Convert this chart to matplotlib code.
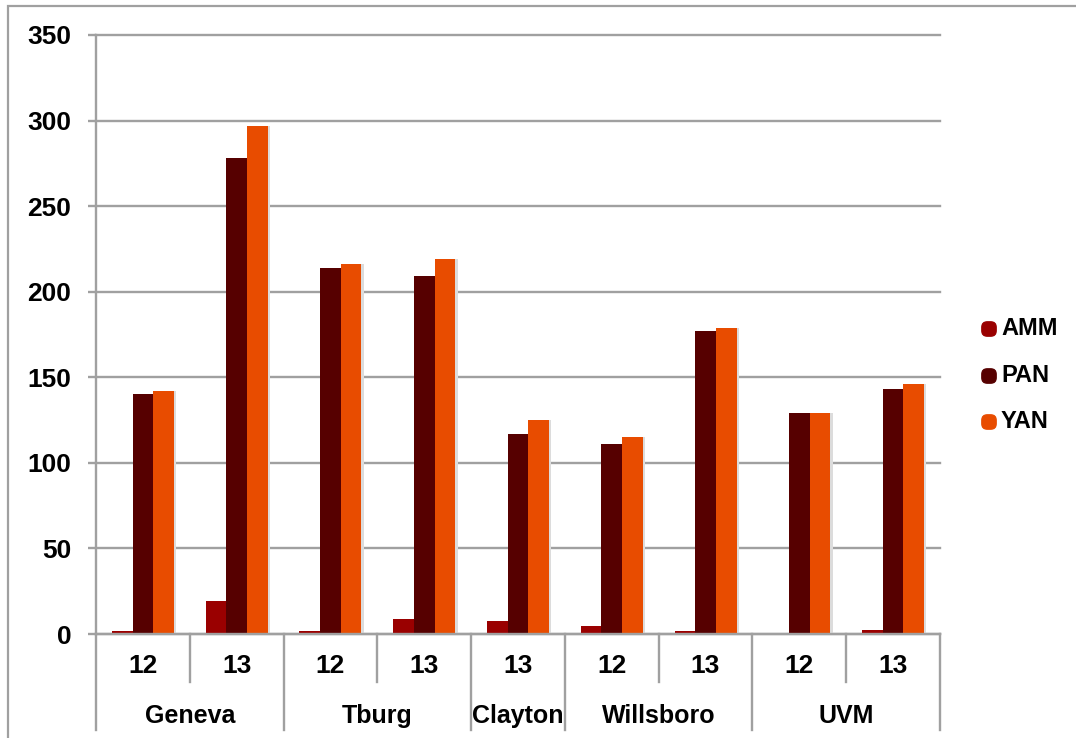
import matplotlib
matplotlib.use("Agg")
import matplotlib.pyplot as plt
import matplotlib.transforms as mtransforms
from matplotlib.patches import Rectangle, FancyBboxPatch
import numpy as np

sites = ["Geneva", "Tburg", "Clayton", "Willsboro", "UVM"]
years = ["12", "13", "12", "13", "13", "12", "13", "12", "13"]
site_spans = [2, 2, 1, 2, 2]
amm = [2, 19, 2, 9, 7.5, 4.5, 2, 0, 2.5]
pan = [140, 278, 214, 209, 117, 111, 177, 129, 143]
yan = [142, 297, 216, 219, 125, 115, 179, 129, 146]
series_names = ["AMM", "PAN", "YAN"]
colors = ["#9a0000", "#560000", "#e84c00"]

plt.rcParams['font.family'] = ['Liberation Sans', 'DejaVu Sans']
fig = plt.figure(figsize=(10.76, 7.38), dpi=100)
ax = fig.add_axes([96/1076, 1-634/738, 844/1076, 599/738])

grid_c = "#a0a0a0"
n = len(years)
x = np.arange(n) + 0.5
w = 0.22
for k, (vals, c) in enumerate(zip([amm, pan, yan], colors)):
    xs = x + (k - 1) * w
    ax.bar(xs + 0.025, vals, width=w, color="#dcdcdc", zorder=2, linewidth=0)
    ax.bar(xs, vals, width=w, color=c, zorder=3, linewidth=0, label=series_names[k])

ax.set_xlim(0, n)
ax.set_ylim(0, 350)
ax.set_yticks(np.arange(0, 351, 50))
ax.yaxis.grid(True, color=grid_c, linewidth=1.7, zorder=0)
for gl in ax.get_ygridlines():
    gl.set_clip_on(False)
ax.set_axisbelow(True)
for s in ["top", "right", "bottom"]:
    ax.spines[s].set_visible(False)
ax.spines["left"].set_color(grid_c)
ax.spines["left"].set_linewidth(1.7)
ax.tick_params(axis="y", length=5.8, width=1.7, color=grid_c, labelsize=19, pad=12)
for lab in ax.get_yticklabels():
    lab.set_fontweight("bold")
ax.set_xticks([])

trans = mtransforms.blended_transform_factory(ax.transData, ax.transAxes)
line_kw = dict(color=grid_c, linewidth=1.7, transform=trans, clip_on=False)
inner_bot = -(682 - 634) / 599
outer_bot = -(730 - 634) / 599
ax.plot([0, n], [0, 0], **line_kw, zorder=4)
for i, yv in enumerate(years):
    ax.text(i + 0.5, -(666 - 634) / 599, yv, transform=trans, ha="center", va="center",
            fontsize=19, fontweight="bold")
bounds = np.concatenate([[0], np.cumsum(site_spans)])
for i in range(n + 1):
    if i in bounds:
        ax.plot([i, i], [0, outer_bot], **line_kw)
    else:
        ax.plot([i, i], [0, inner_bot], **line_kw)
for j, s in enumerate(sites):
    ax.text((bounds[j] + bounds[j + 1]) / 2, -(716 - 634) / 599, s, transform=trans,
            ha="center", va="center", fontsize=18, fontweight="bold")

# legend
leg_y = [329, 376, 422]
for name, c, yy in zip(series_names, colors, leg_y):
    fig.patches.append(FancyBboxPatch((984 / 1076, 1 - (yy + 5) / 738), 10 / 1076, 10 / 738,
                                      boxstyle="round,pad=0.002,rounding_size=0.005",
                                      transform=fig.transFigure, color=c, mutation_aspect=1076/738))
    fig.text(1001 / 1076, 1 - yy / 738, name, ha="left", va="center", fontsize=17,
             fontweight="bold")

# outer chart frame
fig.patches.append(Rectangle((8 / 1076, -0.05), 1.1, 0.05 + 1 - 6 / 738,
                             transform=fig.transFigure, fill=False, edgecolor=grid_c,
                             linewidth=1.6))

fig.savefig("out.png", dpi=100)
